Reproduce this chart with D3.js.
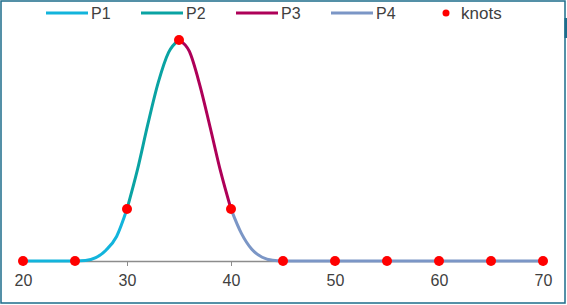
<!DOCTYPE html>
<html>
<head>
<meta charset="utf-8">
<script src="https://cdn.jsdelivr.net/npm/d3@7"></script>
<style>
  body { margin: 0; background: #fff; }
  svg { display: block; font-family: "Liberation Sans", Arial, sans-serif; }
</style>
</head>
<body>
<div id="chart"></div>
<script>
// segment samples (peak = 1)
var p1X = [20, 25, 26, 27, 28, 29, 30];
var p1Y = [0, 0, 0.002, 0.015, 0.05, 0.111, 0.235];
var p2X = [30, 31, 32, 33, 34, 35];
var p2Y = [0.235, 0.412, 0.618, 0.807, 0.944, 1];
var p3X = [35, 36, 37, 38, 39, 40];
var p3Y = [1, 0.948, 0.796, 0.604, 0.405, 0.235];
var p4X = [40, 41, 42, 43, 44, 45, 70];
var p4Y = [0.235, 0.125, 0.053, 0.017, 0.003, 0, 0];
var knotX = [20, 25, 30, 35, 40, 45, 50, 55, 60, 65, 70];
var knotY = [0, 0, 0.235, 1, 0.235, 0, 0, 0, 0, 0, 0];
var tickVals = [20, 30, 40, 50, 60, 70];
var seriesNames = ['P1', 'P2', 'P3', 'P4'];
var seriesColors = ['#12B4DC', '#0AA3A3', '#AE0058', '#7B96C6'];

var W = 567, H = 305;
var svg = d3.select('#chart').append('svg')
  .attr('width', W)
  .attr('height', H);

var x = d3.scaleLinear().domain([20, 70]).range([23, 543]);
var y = d3.scaleLinear().domain([0, 1]).range([261, 40]);

// frame
svg.append('rect')
  .attr('x', 1).attr('y', 1)
  .attr('width', W - 3).attr('height', H - 3)
  .attr('fill', '#fff')
  .attr('stroke', '#1D6C8B')
  .attr('stroke-width', 1.5);
svg.append('rect')
  .attr('x', 564.5).attr('y', 18)
  .attr('width', 2.5).attr('height', 20)
  .attr('fill', '#1D6C8B');

// x axis
var xAxis = d3.axisBottom(x)
  .tickValues(tickVals)
  .tickSize(5)
  .tickSizeOuter(0)
  .tickPadding(9)
  .tickFormat(d3.format('d'));
var gx = svg.append('g')
  .attr('transform', 'translate(0,' + y(0) + ')')
  .call(xAxis);
gx.select('.domain').attr('stroke', '#8c8c8c').attr('stroke-width', 1.5);
gx.selectAll('.tick line').attr('stroke', '#8c8c8c').attr('stroke-width', 1);
gx.selectAll('.tick text')
  .attr('fill', '#404040')
  .attr('font-size', '16px')
  .attr('font-family', '"Liberation Sans", Arial, sans-serif');

// segments
var line = d3.line()
  .x(function(d) { return x(d[0]); })
  .y(function(d) { return y(d[1]); })
  .curve(d3.curveMonotoneX);

var segs = [[p1X, p1Y], [p2X, p2Y], [p3X, p3Y], [p4X, p4Y]];
segs.forEach(function(s, i) {
  var pts = s[0].map(function(v, j) { return [v, s[1][j]]; });
  svg.append('path')
    .attr('d', line(pts))
    .attr('fill', 'none')
    .attr('stroke', seriesColors[i])
    .attr('stroke-width', 3);
});

// knots
svg.selectAll('.knot')
  .data(knotX.map(function(v, j) { return [v, knotY[j]]; }))
  .enter()
  .append('circle')
  .attr('class', 'knot')
  .attr('cx', function(d) { return x(d[0]); })
  .attr('cy', function(d) { return y(d[1]); })
  .attr('r', 5)
  .attr('fill', '#FF0000');

// legend
var leg = svg.append('g').attr('transform', 'translate(46,13)');
seriesNames.forEach(function(n, i) {
  var g = leg.append('g').attr('transform', 'translate(' + (i * 95) + ',0)');
  g.append('line')
    .attr('x1', 0).attr('x2', 42)
    .attr('y1', 0).attr('y2', 0)
    .attr('stroke', seriesColors[i])
    .attr('stroke-width', 3);
  g.append('text')
    .attr('x', 45).attr('y', 6)
    .attr('fill', '#404040')
    .attr('font-size', '16px')
    .text(n);
});
var kg = leg.append('g').attr('transform', 'translate(400,0)');
kg.append('circle').attr('cx', 0).attr('cy', 0).attr('r', 3.5).attr('fill', '#FF0000');
kg.append('text')
  .attr('x', 15).attr('y', 6)
  .attr('fill', '#404040')
  .attr('font-size', '17px')
  .text('knots');
</script>
</body>
</html>
